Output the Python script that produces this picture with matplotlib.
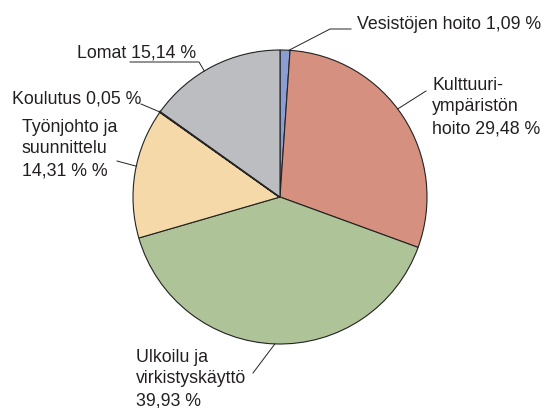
import numpy as np
import matplotlib.pyplot as plt

# work time shares, clockwise from the top
labels = ['Vesistöjen hoito 1,09 %',
          'Kulttuuri-\nympäristön\nhoito 29,48 %',
          'Ulkoilu ja\nvirkistyskäyttö\n39,93 %',
          'Työnjohto ja\nsuunnittelu\n14,31 % %',
          'Koulutus 0,05 %',
          'Lomat 15,14 %']
shares = [1.09, 29.48, 39.93, 14.31, 0.05, 15.14]
colors = ['#8c9dd2', '#d6907f', '#aec397', '#f6d9a9', '#262626', '#bcbdc1']

W, H = 547, 408
CX, CY, R = 280, H - 197, 147

# label layout in pixels from the top-left: text (left, last baseline),
# angle where the leader touches the rim, then the leader's bend points
text_pos = [(357, 29), (432, 133), (136, 405), (22, 175), (12, 103), (77, 57)]
rim_angle = [86.5, 36.8, 268, 167.9, 144.7, 121]
leaders = [[(330, 29), (351, 29)], [(426, 91)], [(253, 373)],
           [(117, 161)], [(141, 104)], [(199, 62), (130, 62)]]

fig = plt.figure(figsize=(W / 100, H / 100), dpi=100)
ax = fig.add_axes([0, 0, 1, 1])
wedges, _ = ax.pie(shares, colors=colors, startangle=90, counterclock=False,
                   center=(CX, CY), radius=R,
                   wedgeprops=dict(edgecolor='#222222', linewidth=0.8))
wedges[4].set_linewidth(1.6)
ax.set_xlim(0, W)
ax.set_ylim(0, H)
ax.set_aspect('auto')
ax.axis('off')

for lab, (tx, ty), ang, bends in zip(labels, text_pos, rim_angle, leaders):
    a = np.radians(ang)
    pts = [(CX + R * np.cos(a), CY + R * np.sin(a))] + [(x, H - y) for x, y in bends]
    xs, ys = zip(*pts)
    ax.plot(xs, ys, color='#222222', lw=0.7)
    ax.text(tx, H - ty, lab, ha='left', va='baseline', fontsize=12.8,
            linespacing=1.36, family='Liberation Sans', color='#231f20')

plt.savefig('out.png', dpi=100)
